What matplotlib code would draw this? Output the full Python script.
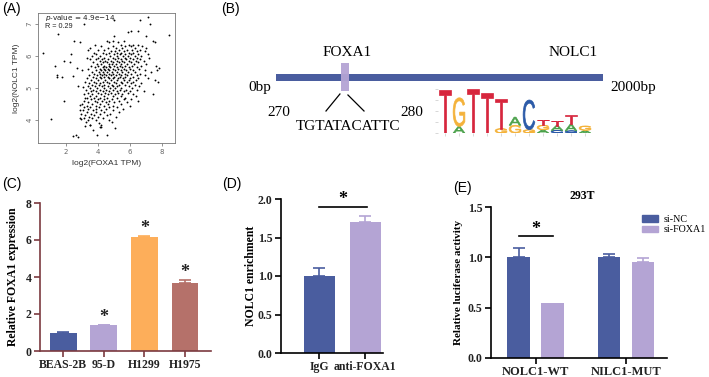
import matplotlib
matplotlib.use("Agg")
import matplotlib.pyplot as plt
from matplotlib.textpath import TextPath
from matplotlib.patches import PathPatch, Rectangle, Patch
from matplotlib.font_manager import FontProperties
from matplotlib.transforms import Affine2D

SERIF = "Liberation Serif"
SANS = "Liberation Sans"

# ---- (A) correlation scatter: rows of (log2 NOLC1, [log2 FOXA1 ...])
scatter_rows = [
    (7.23, [7.09]), (7.13, [5.02, 6.63]), (6.99, [3.10, 7.25]),
    (6.79, [6.05, 6.47]), (6.76, [5.89]), (6.69, [1.52]), (6.66, [8.43]),
    (6.63, [5.02]), (6.61, [6.98]), (6.48, [2.48, 4.91]),
    (6.45, [4.54, 7.40, 5.6]), (6.42, [2.89, 4.71, 7.56, 5.25]),
    (6.35, [3.8, 5.4, 5.9, 6.2, 6.5]), (6.30, [4.2, 4.9, 5.7, 6.05, 6.75]),
    (6.25, [3.5, 4.6, 5.1, 5.5, 6.3, 7.0]), (6.20, [4.0, 4.4, 5.3, 5.8, 6.1, 6.6]),
    (6.17, [3.37]), (6.15, [4.8, 5.05, 5.6, 6.4, 6.9]),
    (6.10, [0.57, 3.72, 4.3, 4.65, 5.2, 5.45, 5.95, 6.2]),
    (6.05, [2.33, 3.9, 4.5, 5.0, 5.35, 5.7, 6.05, 6.5, 7.1]),
    (6.00, [3.6, 4.15, 4.75, 5.15, 5.55, 5.85, 6.3, 6.7]),
    (5.95, [3.3, 4.0, 4.4, 4.9, 5.25, 5.65, 6.0, 6.45, 7.2]),
    (5.90, [3.47, 3.85, 4.25, 4.6, 5.05, 5.4, 5.75, 6.15, 6.6]),
    (5.85, [1.86, 4.1, 4.45, 4.8, 5.2, 5.5, 5.9, 6.35, 6.85]),
    (5.80, [2.25, 3.7, 4.3, 4.55, 4.95, 5.3, 5.6, 6.05, 6.5]),
    (5.75, [3.95, 4.2, 4.7, 4.85, 5.1, 5.45, 5.8, 6.25, 7.0]),
    (5.70, [3.55, 4.0, 4.4, 4.65, 5.0, 5.35, 5.7, 6.1, 6.7, 7.61]),
    (5.67, [1.28]), (5.65, [3.8, 4.3, 4.5, 4.75, 5.15, 5.5, 5.9, 6.4]),
    (5.61, [2.68, 7.80]), (5.60, [3.35, 4.1, 4.35, 4.6, 4.9, 5.25, 5.6, 6.0, 6.55]),
    (5.56, [2.99, 7.69]), (5.55, [3.9, 4.2, 4.45, 4.7, 5.05, 5.4, 5.75, 6.2, 6.9]),
    (5.50, [3.6, 4.05, 4.3, 4.55, 4.85, 5.2, 5.5, 5.85, 6.3, 7.3]),
    (5.45, [3.75, 4.15, 4.4, 4.65, 4.95, 5.3, 5.65, 6.05, 6.6]),
    (5.41, [1.44]), (5.40, [3.45, 3.95, 4.25, 4.5, 4.8, 5.1, 5.45, 5.8, 6.4, 6.95]),
    (5.38, [2.43]), (5.35, [1.44, 1.77, 3.7, 4.1, 4.35, 4.6, 5.0, 5.35, 5.7, 6.15]),
    (5.30, [3.3, 3.85, 4.2, 4.7, 4.9, 5.25, 5.55, 6.0, 6.5, 7.1]),
    (5.25, [3.55, 4.0, 4.45, 4.8, 5.15, 5.6, 5.95, 6.35, 7.55]),
    (5.20, [3.2, 3.75, 4.3, 4.55, 5.0, 5.4, 5.8, 6.2, 7.76]),
    (5.15, [3.45, 3.9, 4.15, 4.65, 5.1, 5.5, 6.05, 6.7]),
    (5.10, [3.6, 4.05, 4.4, 4.85, 5.3, 5.7, 6.3]), (5.06, [2.75]),
    (5.05, [3.35, 3.8, 4.25, 4.6, 4.95, 5.2, 5.9, 6.55]), (5.02, [3.06]),
    (5.00, [3.5, 3.95, 4.35, 4.75, 5.05, 5.45, 6.1]),
    (4.95, [3.25, 3.7, 4.1, 4.5, 4.9, 5.35, 5.75, 6.4]),
    (4.90, [3.55, 3.85, 4.3, 4.65, 5.15, 5.6, 6.0, 6.85]),
    (4.85, [3.4, 4.0, 4.45, 4.8, 5.25, 5.85]),
    (4.80, [3.15, 3.65, 4.2, 4.6, 5.05, 5.5, 6.2, 7.45]),
    (4.75, [3.5, 3.9, 4.35, 4.95, 5.4, 6.35]), (4.70, [3.3, 3.75, 4.1, 4.55, 5.2, 5.7]),
    (4.67, [3.20]), (4.65, [3.55, 4.0, 4.4, 4.85, 5.6, 6.05]),
    (4.60, [1.86, 3.1, 3.8, 4.25, 4.7, 5.3, 6.5]), (4.55, [3.4, 3.95, 4.5, 5.0, 5.8]),
    (4.50, [3.0, 3.6, 4.15, 4.6, 5.45]), (4.46, [2.85]),
    (4.45, [3.3, 3.85, 4.35, 4.9, 6.0]), (4.40, [3.15, 3.5, 4.05, 4.7, 5.2]),
    (4.35, [3.4, 3.9, 4.5, 5.55]), (4.31, [2.85]), (4.30, [3.05, 3.7, 4.2, 4.95]),
    (4.25, [3.3, 3.85, 4.4, 5.3]), (4.20, [2.95, 3.55, 4.1, 4.75]),
    (4.15, [3.2, 3.75, 4.55]), (4.10, [3.45, 4.0, 5.1]), (4.07, [2.85]),
    (4.05, [3.1, 3.6, 4.3]), (4.02, [1.07, 2.95]), (4.00, [3.35, 3.9, 4.7]),
    (3.95, [4.86, 3.25]), (3.91, [4.03]), (3.85, [3.5, 4.2]), (3.84, [3.51]),
    (3.81, [3.16]), (3.79, [4.13]), (3.77, [4.19]), (3.74, [5.06]), (3.70, [3.7]),
    (3.54, [2.64]), (3.53, [3.93, 4.55]), (3.50, [2.43]), (3.48, [2.72]),
]
foxa1_tpm = [x for y, xs in scatter_rows for x in xs]
nolc1_tpm = [y for y, xs in scatter_rows for x in xs]

# ---- (B) promoter diagram / motif logo
promoter_len = 2000
motif_label = "TGTATACATTC"
logo_stacks = [  # bottom -> top, (base, bits)
    [("T", 1.95)],
    [("A", 0.30), ("G", 1.30)],
    [("T", 1.98)],
    [("T", 1.80)],
    [("G", 0.20), ("T", 1.35)],
    [("G", 0.35), ("A", 0.37)],
    [("G", 0.15), ("C", 1.35)],
    [("A", 0.15), ("G", 0.20), ("T", 0.25)],
    [("C", 0.12), ("A", 0.22), ("T", 0.22)],
    [("C", 0.10), ("A", 0.30), ("T", 0.40)],
    [("A", 0.12), ("G", 0.20)],
]
base_colors = {"A": "#4aa14a", "C": "#2b5aa8", "G": "#f4b23a", "T": "#d7263d"}

# ---- (C) qPCR
cells = ["BEAS-2B", "95-D", "H1299", "H1975"]
foxa1_expr = [1.0, 1.38, 6.18, 3.65]
foxa1_err = [0.05, 0.04, 0.05, 0.18]
foxa1_sig = [False, True, True, True]
c_colors = ["#4a5d9f", "#b4a4d4", "#fdae5a", "#b5716a"]

# ---- (D) ChIP
chip_groups = ["IgG", "anti-FOXA1"]
chip_vals = [1.0, 1.70]
chip_err = [0.10, 0.08]

# ---- (E) luciferase
luc_groups = ["NOLC1-WT", "NILC1-MUT"]
luc_series = ["si-NC", "si-FOXA1"]
luc_vals = {"si-NC": [1.0, 1.0], "si-FOXA1": [0.55, 0.95]}
luc_err = {"si-NC": [0.097, 0.03], "si-FOXA1": [0.0, 0.04]}

BLUE = "#4a5d9f"
LAV = "#b4a4d4"

W, H = 709, 377
fig = plt.figure(figsize=(W / 100, H / 100), dpi=100)


def px_axes(x0, y0, x1, y1):
    # pixel box (top-left origin) -> figure axes
    return fig.add_axes([x0 / W, 1 - y1 / H, (x1 - x0) / W, (y1 - y0) / H])


for lab, x, y in [("(A)", 2, 2), ("(B)", 221, 2), ("(C)", 2, 177), ("(D)", 222, 177), ("(E)", 453, 181)]:
    fig.text(x / W, 1 - y / H, lab, ha="left", va="top", fontsize=10, family=SANS)

# ================= A
axA = px_axes(38, 13, 175, 143)
axA.scatter(foxa1_tpm, nolc1_tpm, s=1.8, c="black", linewidths=0)
axA.set_xlim(0.25, 8.8)
axA.set_ylim(3.28, 7.34)
axA.set_xticks([2, 4, 6, 8])
axA.set_yticks([4, 5, 6, 7])
for sp in axA.spines.values():
    sp.set_color("#777777")
    sp.set_linewidth(0.6)
axA.tick_params(length=2, width=0.5, colors="#666666", labelsize=5, pad=2)
for t in axA.get_yticklabels():
    t.set_rotation(90)
    t.set_va("center")
axA.set_xlabel("log2(FOXA1 TPM)", fontsize=6, family=SANS, color="#333333", labelpad=4)
axA.set_ylabel("log2(NOLC1 TPM)", fontsize=6, family=SANS, color="#333333", labelpad=5)
axA.text(0.05, 0.96, r"$\it{p}$-value = 4.9e−14", transform=axA.transAxes, fontsize=5.2,
         va="center", ha="left", color="#222222")
axA.text(0.05, 0.895, "R = 0.29", transform=axA.transAxes, fontsize=5.2, family=SANS,
         va="center", ha="left", color="#222222")

# ================= B
axB = px_axes(240, 0, 709, 170)
axB.set_axis_off()
axB.set_xlim(-218, 2645)
axB.set_ylim(170, 0)
axB.add_patch(Rectangle((0, 74), promoter_len, 7, color=BLUE, lw=0))
axB.add_patch(Rectangle((399, 63), 49, 28, color=LAV, lw=0, alpha=0.95))
axB.plot([307, 392], [111, 94], color="black", lw=0.9)
axB.plot([441, 539], [95, 111], color="black", lw=0.9)
tkw = dict(family=SERIF, fontsize=11, ha="center", va="center")
axB.text(436, 53, "FOXA1", **tkw)
axB.text(1815, 53, "NOLC1", **tkw)
axB.text(-96, 87, "0bp", **tkw)
axB.text(2182, 87, f"{promoter_len}bp", **tkw)
axB.text(20, 113, "270", **tkw)
axB.text(441, 127, motif_label, **tkw)
axB.text(832, 113, "280", **tkw)

# motif logo
axL = px_axes(438, 89, 592, 133)
axL.set_xlim(0.5, len(logo_stacks) + 0.5)
axL.set_ylim(0, 2.0)
fp = FontProperties(family=SANS)


def draw_letter(ax, ch, x, y, w, h, color):
    tp = TextPath((0, 0), ch, size=100, prop=fp)
    bb = tp.get_extents()
    tr = Affine2D().translate(-bb.x0, -bb.y0).scale(w / bb.width, h / bb.height).translate(x, y)
    ax.add_patch(PathPatch(tr.transform_path(tp), fc=color, ec=color, lw=0.5))


for i, stack in enumerate(logo_stacks):
    y0 = 0.0
    for base, h in stack:
        draw_letter(axL, base, i + 1 - 0.42, y0, 0.84, h, base_colors[base])
        y0 += h
for sp in axL.spines.values():
    sp.set_visible(False)
axL.set_xticks(range(1, len(logo_stacks) + 1))
axL.set_yticks([0, 0.5, 1.0, 1.5, 2.0])
axL.tick_params(length=2, width=0.5, colors="#c8c8c8", labelleft=False, labelbottom=False, pad=0)

# ================= common bar style


def style_bar_axes(ax, color="black"):
    ax.spines["top"].set_visible(False)
    ax.spines["right"].set_visible(False)
    for s in ("left", "bottom"):
        ax.spines[s].set_color(color)
        ax.spines[s].set_linewidth(1.2)
    ax.tick_params(axis="both", length=4, width=1.2, color=color, pad=2)
    for t in ax.get_xticklabels() + ax.get_yticklabels():
        t.set_family(SERIF)
        t.set_fontweight("bold")
        t.set_fontsize(8.5)
        t.set_color("#222222")


# ================= C
axC = px_axes(40, 203, 211, 351)
xs = range(len(cells))
for i in xs:
    axC.bar(i, foxa1_expr[i], width=0.66, color=c_colors[i], zorder=2)
    axC.errorbar(i, foxa1_expr[i], yerr=[[0], [foxa1_err[i]]], ecolor=c_colors[i],
                 elinewidth=1.2, capsize=4, capthick=1.2, fmt="none", zorder=1)
    if foxa1_sig[i]:
        axC.text(i, foxa1_expr[i] + foxa1_err[i] + 0.4, "*", ha="center", va="center",
                 fontsize=13, fontweight="bold", family=SERIF, color="#222222")
axC.set_xlim(-0.57, 3.64)
axC.set_ylim(0, 8)
axC.set_xticks(list(xs))
axC.set_xticklabels(cells)
axC.set_yticks([0, 2, 4, 6, 8])
style_bar_axes(axC, "#7b3a3f")
axC.set_ylabel("Relative FOXA1 expression", family=SERIF, fontweight="bold", fontsize=8.5, labelpad=5)

# ================= D
axD = px_axes(280.7, 199, 383, 353)
for i, (v, e, c) in enumerate(zip(chip_vals, chip_err, [BLUE, LAV])):
    axD.bar(i, v, width=0.68, color=c, zorder=2)
    axD.errorbar(i, v, yerr=[[0], [e]], ecolor=c, elinewidth=1.2, capsize=4, capthick=1.2,
                 fmt="none", zorder=1)
top_d = max(v + e for v, e in zip(chip_vals, chip_err))
axD.plot([0, 1.05], [top_d + 0.12, top_d + 0.12], color="black", lw=1.2)
axD.text(0.52, top_d + 0.21, "*", ha="center", va="center", fontsize=13, fontweight="bold",
         family=SERIF)
axD.set_xlim(-0.84, 1.39)
axD.set_ylim(0, 2.0)
axD.set_xticks([0, 1])
axD.set_xticklabels(chip_groups)
axD.set_yticks([0, 0.5, 1.0, 1.5, 2.0])
axD.set_yticklabels([f"{v:.1f}" for v in [0, 0.5, 1.0, 1.5, 2.0]])
style_bar_axes(axD)
axD.set_ylabel("NOLC1 enrichment", family=SERIF, fontweight="bold", fontsize=8.5, labelpad=0)

# ================= E
axE = px_axes(490.7, 207, 667, 358)
offs = {"si-NC": -0.19, "si-FOXA1": 0.185}
cols = {"si-NC": BLUE, "si-FOXA1": LAV}
for s in luc_series:
    for g in range(len(luc_groups)):
        v, e = luc_vals[s][g], luc_err[s][g]
        axE.bar(g + offs[s], v, width=0.25, color=cols[s], zorder=2)
        if e > 0:
            axE.errorbar(g + offs[s], v, yerr=[[0], [e]], ecolor=cols[s], elinewidth=1.2,
                         capsize=4, capthick=1.2, fmt="none", zorder=1)
top_e = luc_vals["si-NC"][0] + luc_err["si-NC"][0]
axE.plot([offs["si-NC"], offs["si-FOXA1"]], [top_e + 0.11, top_e + 0.11], color="black", lw=1.2)
axE.text(0.0, top_e + 0.18, "*", ha="center", va="center", fontsize=13, fontweight="bold",
         family=SERIF)
axE.set_xlim(-0.5, 1.45)
axE.set_ylim(0, 1.5)
axE.set_xticks([0, 1])
axE.set_xticklabels(luc_groups)
axE.set_yticks([0, 0.5, 1.0, 1.5])
axE.set_yticklabels([f"{v:.1f}" for v in [0, 0.5, 1.0, 1.5]])
style_bar_axes(axE)
for t in axE.get_xticklabels():
    t.set_fontsize(9)
axE.set_ylabel("Relative luciferase activity", family=SERIF, fontweight="bold", fontsize=8, labelpad=3)
axE.text(0.52, 1.075, "293T", transform=axE.transAxes, ha="center", va="center",
         family=SERIF, fontweight="bold", fontsize=8.5)
handles = [Patch(color=cols[s]) for s in luc_series]
axE.legend(handles, luc_series, loc="upper left", bbox_to_anchor=(642 / W, 1 - 215 / H),
           bbox_transform=fig.transFigure, frameon=False, borderpad=0, borderaxespad=0,
           handlelength=1.6, handleheight=0.65, handletextpad=0.6, labelspacing=0.15,
           prop=FontProperties(family=SERIF, size=7.2))

fig.savefig("out.png", dpi=100)
